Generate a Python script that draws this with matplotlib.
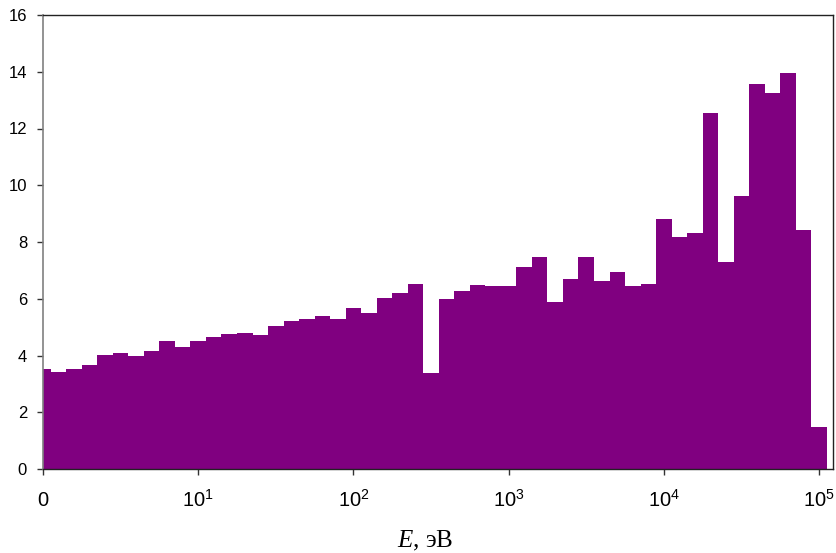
import matplotlib
matplotlib.use("Agg")
import matplotlib.pyplot as plt
import numpy as np

plt.rcParams['font.family'] = ['Liberation Sans', 'DejaVu Sans']
plt.rcParams['mathtext.fontset'] = 'custom'
plt.rcParams['mathtext.it'] = 'Liberation Serif:italic'
plt.rcParams['mathtext.rm'] = 'Liberation Serif'

# bin centres in log10(E), eV: 0.0, 0.1, ..., 5.0
log_energy = [k / 10 for k in range(51)]
values = [
    3.51, 3.41, 3.51, 3.68, 4.02, 4.08, 3.98, 4.17, 4.51, 4.31,
    4.51, 4.65, 4.77, 4.80, 4.73, 5.03, 5.22, 5.27, 5.40, 5.27,
    5.66, 5.49, 6.04, 6.21, 6.51, 3.37, 5.98, 6.26, 6.47, 6.44,
    6.46, 7.13, 7.48, 5.87, 6.70, 7.46, 6.64, 6.93, 6.46, 6.53,
    8.80, 8.17, 8.33, 12.53, 7.30, 9.61, 13.56, 13.26, 13.97, 8.41,
    1.47,
]
xtick_pos = [0, 1, 2, 3, 4, 5]
xtick_labels = ['0', r'$\mathregular{10^{1}}$', r'$\mathregular{10^{2}}$',
                r'$\mathregular{10^{3}}$', r'$\mathregular{10^{4}}$',
                r'$\mathregular{10^{5}}$']
ytick_pos = [0, 2, 4, 6, 8, 10, 12, 14, 16]

fig = plt.figure(figsize=(8.36, 5.53), dpi=100)
ax = fig.add_axes([43 / 836, (553 - 469) / 553, (833 - 43) / 836, (469 - 15) / 553])

ax.bar(log_energy, values, width=0.1, align='center', color='#800080',
       edgecolor='none', linewidth=0)

ax.set_xlim(0, 5.09)
ax.set_ylim(0, 16)
ax.set_xticks(xtick_pos)
ax.set_xticklabels(xtick_labels)
ax.set_yticks(ytick_pos)
ax.tick_params(axis='both', direction='out', length=4, width=1,
               color='#333333', labelcolor='black')
ax.tick_params(axis='x', labelsize=14.5, pad=23)
ax.tick_params(axis='y', labelsize=12, pad=7.5)
for lab in ax.get_xticklabels():
    lab.set_verticalalignment('baseline')

for side in ['top', 'right', 'bottom']:
    ax.spines[side].set_color('#222222')
    ax.spines[side].set_linewidth(1.0)
ax.spines['left'].set_color('#808080')
ax.spines['left'].set_linewidth(1.2)

ax.set_xlabel(r'$E$, эВ', fontsize=18, family=['Liberation Serif', 'DejaVu Serif'],
              va='baseline')
ax.xaxis.set_label_coords(0.4835, -(547 - 469) / 454)

fig.savefig('out.png', dpi=100)
